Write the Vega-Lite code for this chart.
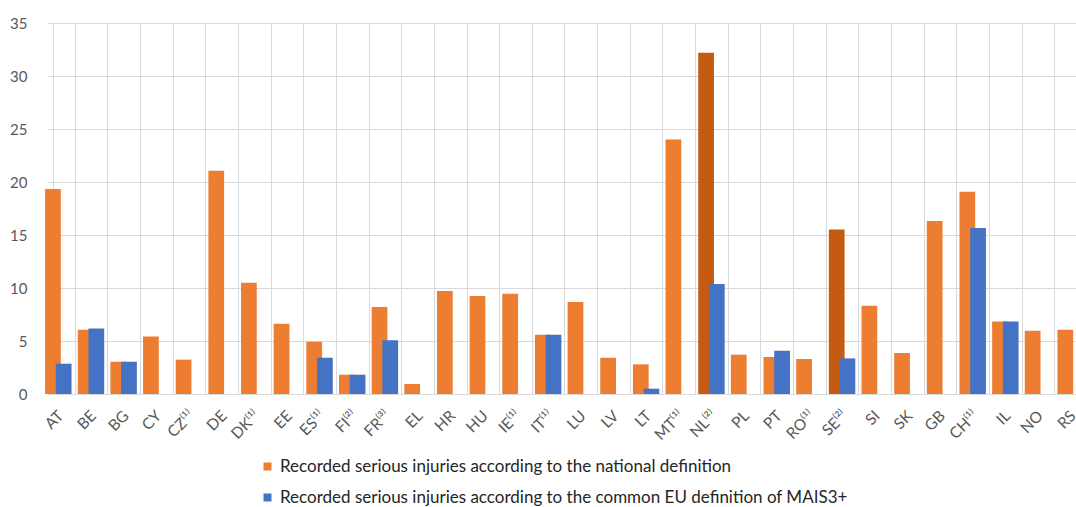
{
  "$schema": "https://vega.github.io/schema/vega-lite/v6.json",
  "width": 1034,
  "height": 371,
  "autosize": {"type": "none"},
  "padding": {"left": 42, "top": 23, "right": 0, "bottom": 113},
  "background": "white",
  "data": {
    "values": [
      {"country": "AT", "series": "Recorded serious injuries according to the national definition", "value": 19.34, "dark": false},
      {"country": "BE", "series": "Recorded serious injuries according to the national definition", "value": 6.07, "dark": false},
      {"country": "BG", "series": "Recorded serious injuries according to the national definition", "value": 3.05, "dark": false},
      {"country": "CY", "series": "Recorded serious injuries according to the national definition", "value": 5.43, "dark": false},
      {"country": "CZ⁽¹⁾", "series": "Recorded serious injuries according to the national definition", "value": 3.24, "dark": false},
      {"country": "DE", "series": "Recorded serious injuries according to the national definition", "value": 21.07, "dark": false},
      {"country": "DK⁽¹⁾", "series": "Recorded serious injuries according to the national definition", "value": 10.5, "dark": false},
      {"country": "EE", "series": "Recorded serious injuries according to the national definition", "value": 6.63, "dark": false},
      {"country": "ES⁽¹⁾", "series": "Recorded serious injuries according to the national definition", "value": 4.93, "dark": false},
      {"country": "FI⁽²⁾", "series": "Recorded serious injuries according to the national definition", "value": 1.82, "dark": false},
      {"country": "FR⁽³⁾", "series": "Recorded serious injuries according to the national definition", "value": 8.2, "dark": false},
      {"country": "EL", "series": "Recorded serious injuries according to the national definition", "value": 0.94, "dark": false},
      {"country": "HR", "series": "Recorded serious injuries according to the national definition", "value": 9.72, "dark": false},
      {"country": "HU", "series": "Recorded serious injuries according to the national definition", "value": 9.25, "dark": false},
      {"country": "IE⁽¹⁾", "series": "Recorded serious injuries according to the national definition", "value": 9.46, "dark": false},
      {"country": "IT⁽¹⁾", "series": "Recorded serious injuries according to the national definition", "value": 5.6, "dark": false},
      {"country": "LU", "series": "Recorded serious injuries according to the national definition", "value": 8.68, "dark": false},
      {"country": "LV", "series": "Recorded serious injuries according to the national definition", "value": 3.42, "dark": false},
      {"country": "LT", "series": "Recorded serious injuries according to the national definition", "value": 2.8, "dark": false},
      {"country": "MT⁽¹⁾", "series": "Recorded serious injuries according to the national definition", "value": 24.0, "dark": false},
      {"country": "NL⁽²⁾", "series": "Recorded serious injuries according to the national definition", "value": 32.2, "dark": true},
      {"country": "PL", "series": "Recorded serious injuries according to the national definition", "value": 3.71, "dark": false},
      {"country": "PT", "series": "Recorded serious injuries according to the national definition", "value": 3.49, "dark": false},
      {"country": "RO⁽¹⁾", "series": "Recorded serious injuries according to the national definition", "value": 3.3, "dark": false},
      {"country": "SE⁽²⁾", "series": "Recorded serious injuries according to the national definition", "value": 15.53, "dark": true},
      {"country": "SI", "series": "Recorded serious injuries according to the national definition", "value": 8.33, "dark": false},
      {"country": "SK", "series": "Recorded serious injuries according to the national definition", "value": 3.87, "dark": false},
      {"country": "GB", "series": "Recorded serious injuries according to the national definition", "value": 16.32, "dark": false},
      {"country": "CH⁽¹⁾", "series": "Recorded serious injuries according to the national definition", "value": 19.08, "dark": false},
      {"country": "IL", "series": "Recorded serious injuries according to the national definition", "value": 6.85, "dark": false},
      {"country": "NO", "series": "Recorded serious injuries according to the national definition", "value": 5.97, "dark": false},
      {"country": "RS", "series": "Recorded serious injuries according to the national definition", "value": 6.07, "dark": false},
      {"country": "AT", "series": "Recorded serious injuries according to the common EU definition of MAIS3+", "value": 2.86, "dark": false},
      {"country": "BE", "series": "Recorded serious injuries according to the common EU definition of MAIS3+", "value": 6.19, "dark": false},
      {"country": "BG", "series": "Recorded serious injuries according to the common EU definition of MAIS3+", "value": 3.05, "dark": false},
      {"country": "ES⁽¹⁾", "series": "Recorded serious injuries according to the common EU definition of MAIS3+", "value": 3.42, "dark": false},
      {"country": "FI⁽²⁾", "series": "Recorded serious injuries according to the common EU definition of MAIS3+", "value": 1.82, "dark": false},
      {"country": "FR⁽³⁾", "series": "Recorded serious injuries according to the common EU definition of MAIS3+", "value": 5.06, "dark": false},
      {"country": "IT⁽¹⁾", "series": "Recorded serious injuries according to the common EU definition of MAIS3+", "value": 5.6, "dark": false},
      {"country": "LT", "series": "Recorded serious injuries according to the common EU definition of MAIS3+", "value": 0.5, "dark": false},
      {"country": "NL⁽²⁾", "series": "Recorded serious injuries according to the common EU definition of MAIS3+", "value": 10.38, "dark": false},
      {"country": "PT", "series": "Recorded serious injuries according to the common EU definition of MAIS3+", "value": 4.08, "dark": false},
      {"country": "SE⁽²⁾", "series": "Recorded serious injuries according to the common EU definition of MAIS3+", "value": 3.36, "dark": false},
      {"country": "CH⁽¹⁾", "series": "Recorded serious injuries according to the common EU definition of MAIS3+", "value": 15.66, "dark": false},
      {"country": "IL", "series": "Recorded serious injuries according to the common EU definition of MAIS3+", "value": 6.85, "dark": false}
    ]
  },
  "mark": {"type": "bar", "width": {"band": 1.47}},
  "encoding": {
    "x": {
      "field": "country",
      "type": "nominal",
      "sort": null,
      "title": null,
      "scale": {"paddingInner": 0.345, "paddingOuter": 0.1725, "range": [5.63, 1050.63]},
      "axis": {
        "labelAngle": -45,
        "labelFontSize": 15.5,
        "labelColor": "#595959",
        "labelPadding": 14,
        "labelOffset": -8.5,
        "ticks": false,
        "tickBand": "extent",
        "grid": true,
        "gridColor": "#D9D9D9",
        "domainColor": "#D9D9D9",
        "labelFont": "Lato"
      }
    },
    "xOffset": {
      "field": "series",
      "type": "nominal",
      "scale": {
        "domain": [
          "Recorded serious injuries according to the national definition",
          "Recorded serious injuries according to the common EU definition of MAIS3+"
        ],
        "range": [-3.13, 18.27],
        "paddingInner": 0,
        "paddingOuter": 0
      }
    },
    "y": {
      "field": "value",
      "type": "quantitative",
      "title": null,
      "scale": {"domain": [0, 35], "nice": false},
      "axis": {
        "values": [0, 5, 10, 15, 20, 25, 30, 35],
        "labelFontSize": 15,
        "labelColor": "#595959",
        "labelPadding": 15,
        "ticks": false,
        "domain": false,
        "gridColor": "#D9D9D9",
        "labelFont": "Lato"
      }
    },
    "color": {
      "condition": {"test": "datum.dark", "value": "#C55A11"},
      "field": "series",
      "type": "nominal",
      "scale": {
        "domain": [
          "Recorded serious injuries according to the national definition",
          "Recorded serious injuries according to the common EU definition of MAIS3+"
        ],
        "range": ["#ED7D31", "#4472C4"]
      },
      "legend": {
        "orient": "none",
        "legendX": 217,
        "legendY": 435,
        "direction": "vertical",
        "title": null,
        "symbolType": "square",
        "symbolSize": 64,
        "symbolStrokeWidth": 0,
        "labelFontSize": 17,
        "labelFont": "Lato",
        "labelColor": "#262626",
        "labelOffset": 4,
        "rowPadding": 13,
        "labelLimit": 800
      }
    }
  },
  "config": {
    "view": {"stroke": null},
    "font": "Lato"
  }
}
